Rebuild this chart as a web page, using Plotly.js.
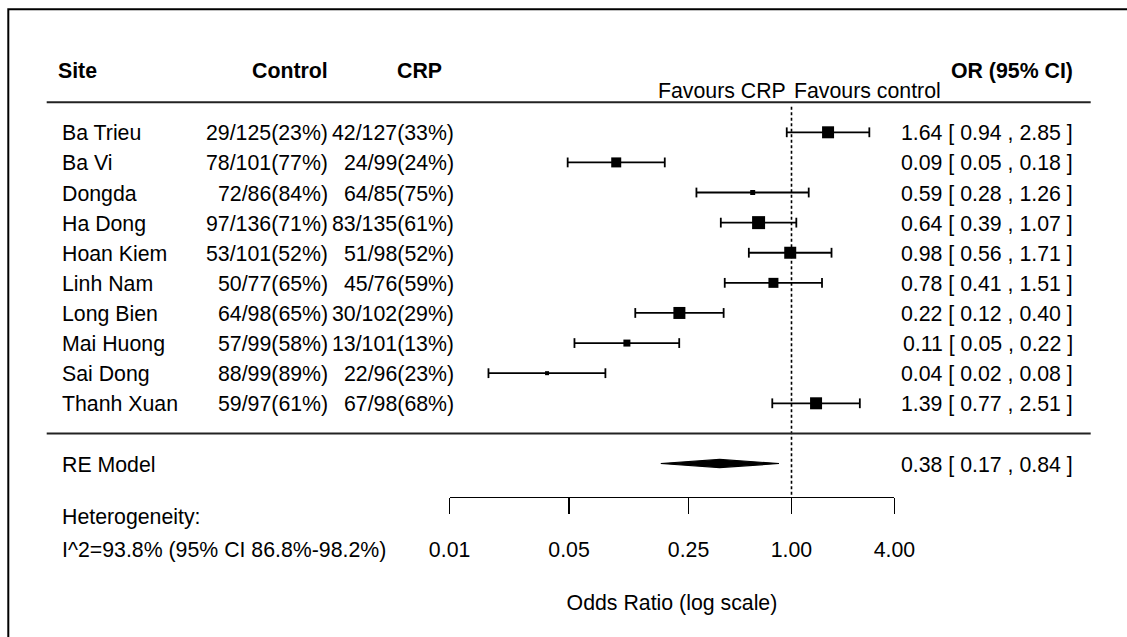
<!DOCTYPE html>
<html>
<head>
<meta charset="utf-8">
<script src="https://cdn.plot.ly/plotly-3.0.1.min.js"></script>
<style>html,body{margin:0;padding:0;background:#fff;}</style>
</head>
<body>
<div id="chart" style="width:1127px;height:637px;"></div>
<script>
// ---------------- data ----------------
const sites = ['Ba Trieu','Ba Vi','Dongda','Ha Dong','Hoan Kiem','Linh Nam','Long Bien','Mai Huong','Sai Dong','Thanh Xuan'];
const controlText = ['29/125(23%)','78/101(77%)','72/86(84%)','97/136(71%)','53/101(52%)','50/77(65%)','64/98(65%)','57/99(58%)','88/99(89%)','59/97(61%)'];
const crpText = ['42/127(33%)','24/99(24%)','64/85(75%)','83/135(61%)','51/98(52%)','45/76(59%)','30/102(29%)','13/101(13%)','22/96(23%)','67/98(68%)'];
const orEst   = [1.636, 0.0944, 0.593, 0.642, 0.983, 0.784, 0.221, 0.109, 0.0372, 1.392];
const orLower = [0.938, 0.0491, 0.278, 0.386, 0.563, 0.407, 0.122, 0.0538, 0.0169, 0.772];
const orUpper = [2.852, 0.1815, 1.261, 1.067, 1.714, 1.508, 0.401, 0.2205, 0.0816, 2.510];
const orLabels = ['1.64 [ 0.94 , 2.85 ]','0.09 [ 0.05 , 0.18 ]','0.59 [ 0.28 , 1.26 ]','0.64 [ 0.39 , 1.07 ]','0.98 [ 0.56 , 1.71 ]','0.78 [ 0.41 , 1.51 ]','0.22 [ 0.12 , 0.40 ]','0.11 [ 0.05 , 0.22 ]','0.04 [ 0.02 , 0.08 ]','1.39 [ 0.77 , 2.51 ]'];
const weights = [0.88, 0.75, 0.38, 1.0, 0.9, 0.75, 0.92, 0.5, 0.3, 0.93]; // relative study weights (square size)
const reEst = 0.38, reLower = 0.172, reUpper = 0.845;
const reLabel = '0.38 [ 0.17 , 0.84 ]';
const tickVals = [0.01, 0.05, 0.25, 1, 4];
const tickText = ['0.01','0.05','0.25','1.00','4.00'];
const hetText = 'I^2=93.8% (95% CI 86.8%-98.2%)';

// ---------------- layout helpers ----------------
const W = 1127, H = 637;
const FONT = 'Liberation Sans, Arial, sans-serif';
const FS = 21.3;
const rows = sites.map((_, i) => sites.length - i);   // 10 ... 1
const pxPerDec = 171, oneAt = 791.5;
const xmin = -oneAt / pxPerDec, xmax = xmin + W / pxPerDec;
const pxPerRow = 30.11, row0At = 433.4;
const ymax = row0At / pxPerRow, ymin = ymax - H / pxPerRow;
const rowOfPx = py => (row0At - py) / pxPerRow;
const axisPy = 496.7;

const ci_x = [], ci_y = [], cap_x = [], cap_y = [];
rows.forEach((r, i) => {
  ci_x.push(orLower[i], orUpper[i], null); ci_y.push(r, r, null);
  cap_x.push(orLower[i], orUpper[i]); cap_y.push(r, r);
});

const traces = [
  {x: ci_x, y: ci_y, mode: 'lines', line: {color: '#000', width: 1.8}, hoverinfo: 'skip', showlegend: false},
  {x: cap_x, y: cap_y, mode: 'markers', marker: {symbol: 'line-ns', size: 7, opacity: 1, line: {color: '#000', width: 1.8}}, hoverinfo: 'skip', showlegend: false},
  {x: orEst, y: rows, mode: 'markers', marker: {symbol: 'square', color: '#000', opacity: 1, size: weights.map(w => Math.round(13.3 * w)), line: {width: 0}}, text: sites, hoverinfo: 'text+x', showlegend: false},
  {x: [reLower, reEst, reUpper, reEst, reLower], y: [-1, -0.865, -1, -1.135, -1], mode: 'lines', fill: 'toself', fillcolor: '#000', line: {color: '#000', width: 1.2}, hoverinfo: 'skip', showlegend: false},
  {x: [1, 1], y: [rowOfPx(106.7), rowOfPx(axisPy)], mode: 'lines', line: {color: '#000', width: 1.6, dash: '3px,2.5px'}, hoverinfo: 'skip', showlegend: false},
  // registers the visible odds-ratio axis (nothing drawn inside the view)
  {x: tickVals, y: tickVals.map(() => ymin - 50), xaxis: 'x2', yaxis: 'y', mode: 'markers', marker: {size: 1, color: 'rgba(0,0,0,0)'}, hoverinfo: 'skip', showlegend: false}
];

const annotations = [];
function addText(text, x, y, xanchor, opts) {
  opts = opts || {};
  const shift = xanchor === 'left' ? -1 : (xanchor === 'right' ? 1 : 0);
  annotations.push({
    text: opts.bold ? '<b>' + text + '</b>' : text,
    x: x / W, xref: 'paper',
    y: opts.yrow !== undefined ? opts.yrow : 1 - y / H,
    yref: opts.yrow !== undefined ? 'y' : 'paper',
    xanchor: xanchor, yanchor: 'middle', showarrow: false,
    borderpad: 0, borderwidth: 0, xshift: shift, yshift: opts.yshift || 0,
    font: {family: FONT, size: FS, color: '#000'}
  });
}
// headers
addText('Site', 59, 71, 'left', {bold: true});
addText('Control', 327, 71, 'right', {bold: true});
addText('CRP', 398, 71, 'left', {bold: true});
addText('OR (95% CI)', 1072, 71, 'right', {bold: true});
addText('Favours CRP', 785, 91, 'right');
addText('Favours control', 795, 91, 'left');
// rows
rows.forEach((r, i) => {
  addText(sites[i], 63, 0, 'left', {yrow: r, yshift: -1});
  addText(controlText[i], 327, 0, 'right', {yrow: r, yshift: -1});
  addText(crpText[i], 453, 0, 'right', {yrow: r, yshift: -1});
  addText(orLabels[i], 1072, 0, 'right', {yrow: r, yshift: -1});
});
addText('RE Model', 63, 0, 'left', {yrow: -1, yshift: -1});
addText(reLabel, 1072, 0, 'right', {yrow: -1, yshift: -1});
addText('Heterogeneity:', 63, 517, 'left');
addText(hetText, 63, 550, 'left');

const lineStyle = {color: '#222', width: 2};
const shapes = [
  {type: 'line', xref: 'paper', yref: 'y', x0: 46.7 / W, x1: 1090.7 / W, y0: 11, y1: 11, line: lineStyle},
  {type: 'line', xref: 'paper', yref: 'y', x0: 46.7 / W, x1: 1090.7 / W, y0: 0, y1: 0, line: lineStyle},
  {type: 'path', xref: 'paper', yref: 'paper', path: `M ${8.3/W} 0 L ${8.3/W} ${1-9.3/H} L 1 ${1-9.3/H}`, line: {color: '#000', width: 2}}
];

const layout = {
  width: W, height: H,
  margin: {l: 0, r: 0, t: 0, b: 0, pad: 0},
  paper_bgcolor: '#fff', plot_bgcolor: 'rgba(0,0,0,0)',
  showlegend: false,
  font: {family: FONT, size: FS, color: '#000'},
  xaxis: {type: 'log', range: [xmin, xmax], domain: [0, 1], visible: false, fixedrange: true},
  yaxis: {range: [ymin, ymax], domain: [0, 1], visible: false, fixedrange: true},
  xaxis2: {
    type: 'log', anchor: 'free', position: 1 - axisPy / H,
    domain: [(oneAt - 2 * pxPerDec) / W, (oneAt + Math.log10(4) * pxPerDec) / W],
    range: [-2.0005, Math.log10(4) + 0.0005],
    tickmode: 'array', tickvals: tickVals, ticktext: tickText,
    ticks: 'outside', ticklen: 16, tickwidth: 1.6, tickcolor: '#000',
    showline: true, linewidth: 1.6, linecolor: '#000',
    showgrid: false, zeroline: false, fixedrange: true,
    tickfont: {family: FONT, size: FS, color: '#000'},
    ticklabelstandoff: 17,
    title: {text: 'Odds Ratio (log scale)', font: {family: FONT, size: FS, color: '#000'}, standoff: 34}
  },
  shapes: shapes,
  annotations: annotations
};

Plotly.newPlot('chart', traces, layout, {staticPlot: true, displayModeBar: false});
</script>
</body>
</html>
